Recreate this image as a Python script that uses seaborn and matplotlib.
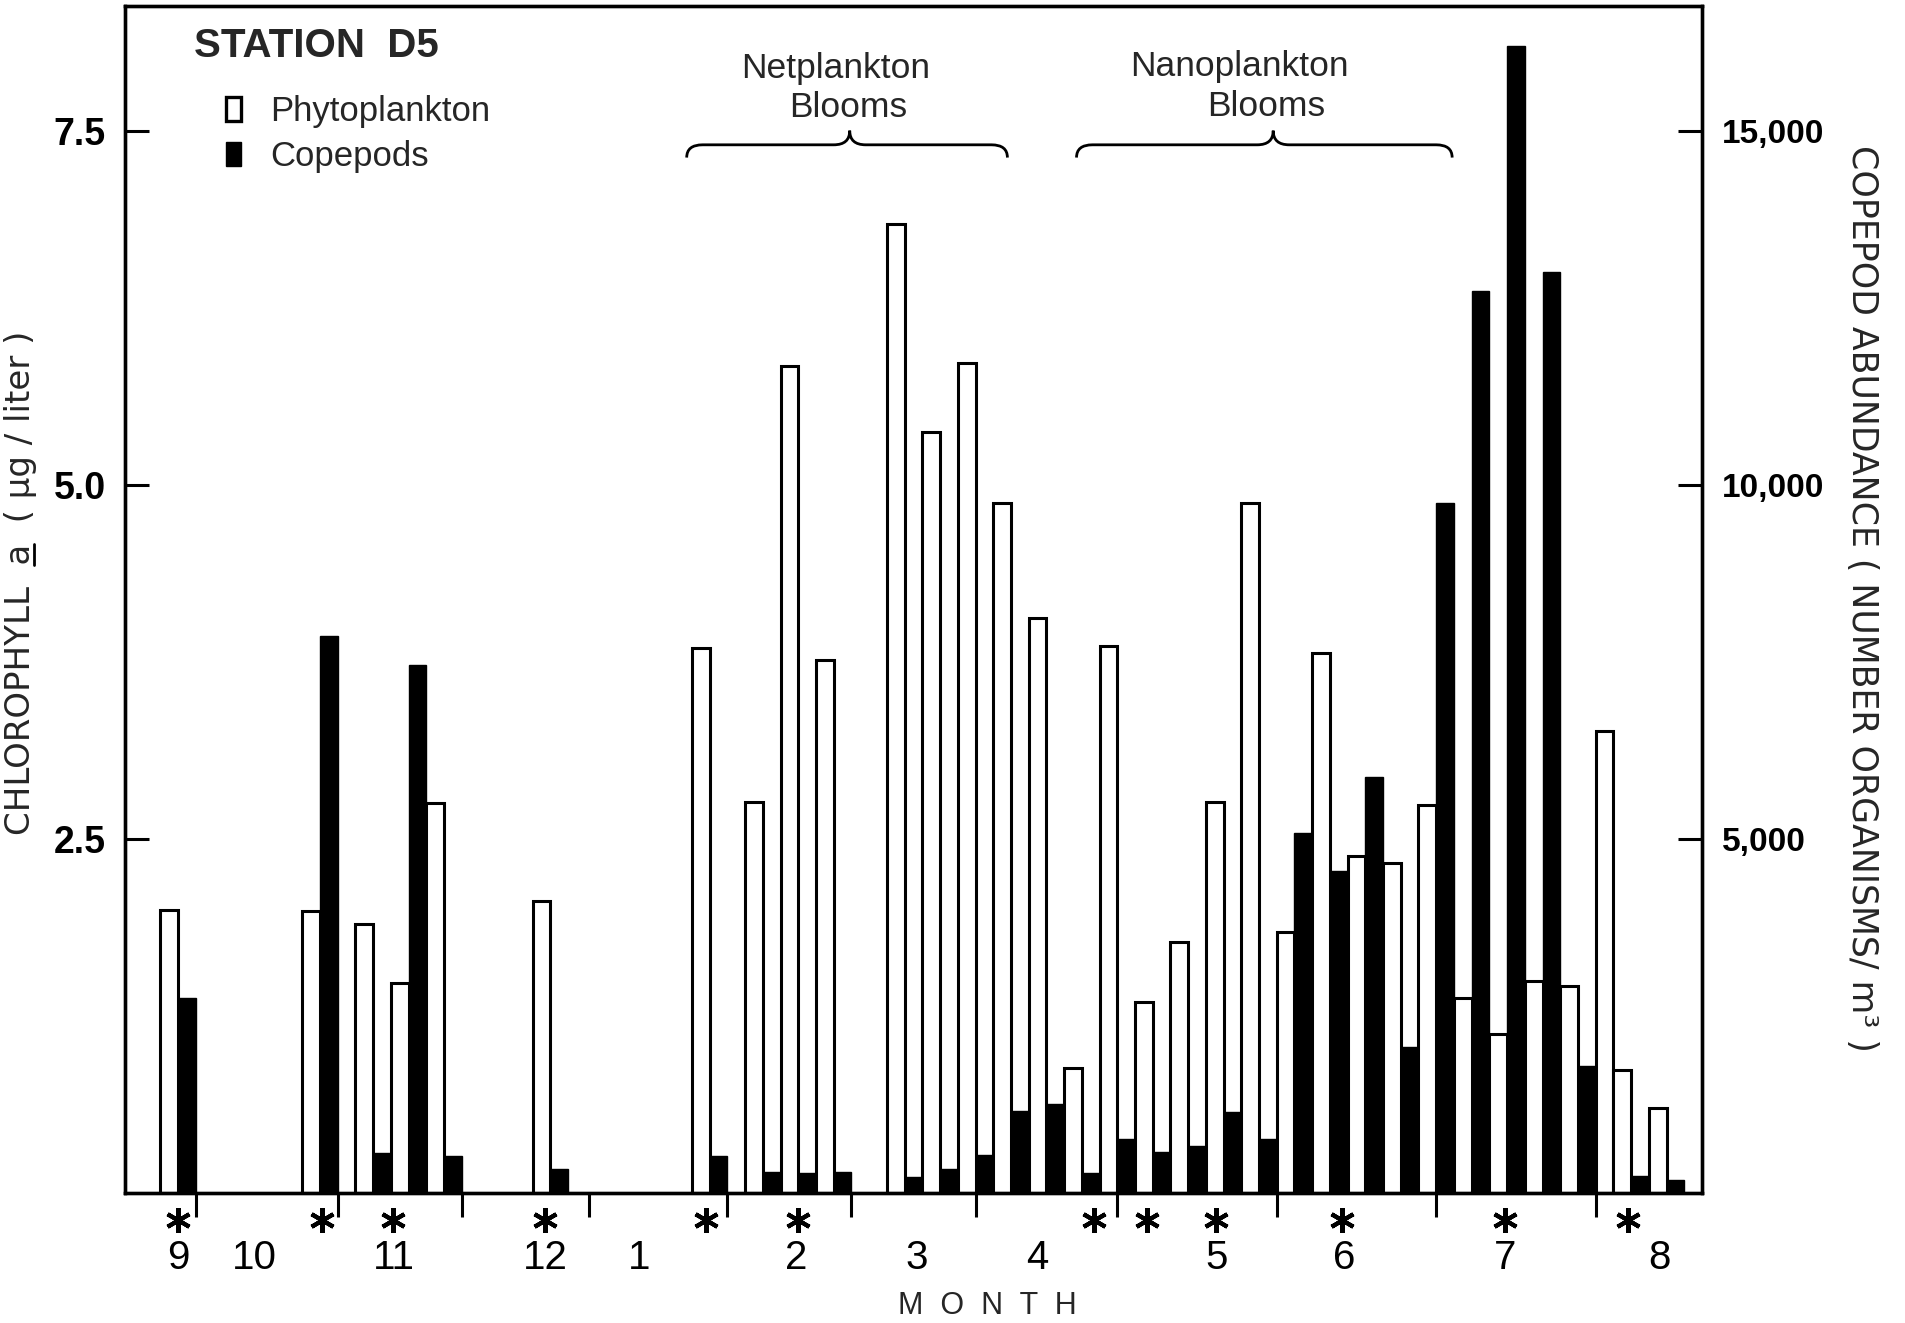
import numpy as np
import pandas as pd
import matplotlib
matplotlib.use("Agg")
import matplotlib.pyplot as plt
import seaborn as sns
from matplotlib.patches import Patch, PathPatch
from matplotlib.path import Path
from matplotlib.lines import Line2D
from matplotlib import transforms

# Sampling dates: left edge of each phytoplankton/copepod bar pair (in bar widths)
sample_pos = [2, 10, 13, 15, 17, 23, 32, 35, 37, 39, 43, 45, 47, 49, 51, 53,
              55, 57, 59, 61, 63, 65, 67, 69, 71, 73, 75, 77, 79, 81, 83, 84, 86]

# Chlorophyll a (ug / liter)
chlorophyll = [2.00, 1.99, 1.90, 1.48, 2.75, 2.06, 3.85, 2.76, 5.84, 3.76,
               6.84, 5.37, 5.86, 4.87, 4.06, 0.88, 3.86, 1.35, 1.77, 2.76,
               4.87, 1.84, 3.81, 2.38, 2.33, 2.74, 1.38, 1.12, 1.50, 1.46,
               3.26, 0.87, 0.60]

# Copepod abundance (organisms / m^3); NaN = no copepod sample
copepods = [2750, 7860, 560, 7460, 520, 340, 520, 300, 280, 300,
            220, 340, 540, 1160, 1260, 280, 760, 580, 660, 1140,
            760, 5080, 4540, 5880, 2060, 9740, 12740, 16200, 13000, 1800,
            np.nan, 240, 180]

month_labels = ["9", "10", "11", "12", "1", "2", "3", "4", "5", "6", "7", "8"]
month_pos = [3.0, 7.3, 15.2, 23.7, 29.0, 37.9, 44.7, 51.5, 61.6, 68.8, 77.9, 86.6]
month_bounds = [4, 12, 19, 26.2, 34, 41, 48, 56, 65, 74, 83]
asterisk_pos = [3.0, 11.1, 15.1, 23.7, 32.8, 38.0, 54.7, 57.7, 61.6, 68.7, 77.9, 84.8]

sns.set_theme(style="ticks")
plt.rcParams["font.family"] = ["Liberation Sans", "DejaVu Sans"]
narrow = ["Liberation Sans Narrow", "Liberation Sans", "DejaVu Sans"]
wide = ["DejaVu Sans"]

fig = plt.figure(figsize=(19.06, 13.23), dpi=100)
ax = fig.add_axes([125 / 1906, 130 / 1323, 1577 / 1906, 1187 / 1323])
ax2 = ax.twinx()

phyto_df = pd.DataFrame({"x": np.array(sample_pos) + 0.5, "chl": chlorophyll})
cope_df = pd.DataFrame({"x": np.array(sample_pos) + 1.5, "n": copepods}).dropna()

sns.barplot(data=phyto_df, x="x", y="chl", native_scale=True, width=1.0,
            color="white", edgecolor="black", linewidth=2.2, saturation=1,
            errorbar=None, ax=ax)
sns.barplot(data=cope_df, x="x", y="n", native_scale=True, width=0.5,
            color="black", edgecolor="black", linewidth=1.0, saturation=1,
            errorbar=None, ax=ax2)

ax.set_xlim(0, 89)
ax.set_ylim(0, 8.38)
ax2.set_ylim(0, 8.38 * 2000)

for a in (ax, ax2):
    for sp in a.spines.values():
        sp.set_visible(True)
        sp.set_color("black")
        sp.set_linewidth(2.4)

# Left axis: chlorophyll
ax.set_yticks([2.5, 5.0, 7.5], labels=["2.5", "5.0", "7.5"],
              fontsize=27, fontweight="bold", family=narrow)
ax.tick_params(axis="y", which="major", direction="in", length=17, width=2.2,
               pad=14, left=True, right=False, colors="black")
ax.set_ylabel("CHLOROPHYLL  a  ( µg / liter )", fontsize=24.5, family=wide,
              ha="center", va="center")
ax.yaxis.set_label_coords(-0.066, 0.514)

# Right axis: copepods
ax2.set_yticks([5000, 10000, 15000],
               labels=[f"{v:,}" for v in (5000, 10000, 15000)],
               fontsize=24, fontweight="bold")
ax2.tick_params(axis="y", which="major", direction="in", length=17, width=2.2,
                pad=14, right=True, left=False, colors="black")
ax2.set_ylabel("COPEPOD ABUNDANCE ( NUMBER ORGANISMS/ m\u00b3 )", fontsize=25,
               family=wide, rotation=-90, ha="center", va="center")
ax2.yaxis.set_label_coords(1.1015, 0.501)

# Month axis
ax.set_xticks(month_pos, labels=month_labels, fontsize=29, family=narrow)
ax.set_xticks(month_bounds, minor=True)
ax.tick_params(axis="x", which="major", length=0, pad=33, colors="black")
ax.tick_params(axis="x", which="minor", direction="out", length=17, width=2.2,
               bottom=True, colors="black")
ax.set_xlabel("M  O  N  T  H", fontsize=22, va="center")
ax.xaxis.set_label_coords(0.547, -0.095)
ax2.tick_params(axis="x", which="both", length=0)

# Asterisks under selected sampling dates
trans = transforms.blended_transform_factory(ax.transData, ax.transAxes)
ax.plot(asterisk_pos, [-0.0227] * len(asterisk_pos), transform=trans,
        linestyle="none", marker=(6, 2, 0), markersize=18,
        markeredgewidth=3.0, color="black", clip_on=False)


def brace(axis, x0, x1, xc, y, y_end, y_tip, dx=0.9):
    verts = [(x0, y_end), (x0, y), (x0 + dx, y),
             (xc - dx, y), (xc, y), (xc, y_tip),
             (xc, y), (xc + dx, y),
             (x1 - dx, y), (x1, y), (x1, y_end)]
    codes = [Path.MOVETO, Path.CURVE3, Path.CURVE3, Path.LINETO,
             Path.CURVE3, Path.CURVE3, Path.CURVE3, Path.CURVE3,
             Path.LINETO, Path.CURVE3, Path.CURVE3]
    axis.add_patch(PathPatch(Path(verts, codes), facecolor="none",
                             edgecolor="black", linewidth=2.0))


brace(ax, 31.7, 49.8, 40.9, 7.40, 7.31, 7.50)
brace(ax, 53.7, 74.9, 64.8, 7.40, 7.31, 7.50)
ax.text(40.1, 7.94, "Netplankton", ha="center", va="center", fontsize=25.5)
ax.text(40.8, 7.66, "Blooms", ha="center", va="center", fontsize=25.5)
ax.text(62.9, 7.95, "Nanoplankton", ha="center", va="center", fontsize=25.5)
ax.text(64.4, 7.67, "Blooms", ha="center", va="center", fontsize=25.5)

# Station title and legend
ax.text(0.044, 0.966, "STATION  D5", transform=ax.transAxes, ha="left",
        va="center", fontsize=29, fontweight="bold")
handles = [Patch(facecolor="white", edgecolor="black", linewidth=2.4),
           Patch(facecolor="black", edgecolor="black")]
ax.legend(handles, ["Phytoplankton", "Copepods"], loc="upper left",
          bbox_to_anchor=(0.064, 0.925), frameon=False, fontsize=25,
          handlelength=0.42, handleheight=0.68, handletextpad=0.85,
          labelspacing=0.34, borderpad=0, borderaxespad=0)

# Underline the "a" of the chlorophyll label
fig.canvas.draw()
renderer = fig.canvas.get_renderer()
ylab = ax.yaxis.label
fp = ylab.get_fontproperties()
bb = ylab.get_window_extent(renderer)
w_upto, _, _ = renderer.get_text_width_height_descent("CHLOROPHYLL  a", fp, ismath=False)
w_a, _, _ = renderer.get_text_width_height_descent("a", fp, ismath=False)
_, _, d_lp = renderer.get_text_width_height_descent("lp", fp, ismath=False)
em = fp.get_size_in_points() * fig.dpi / 72
x_line = bb.x1 - d_lp + 0.10 * em
y_start = bb.y0 + w_upto - w_a
y_end = bb.y0 + w_upto
inv = fig.transFigure.inverted()
(fx, fy0), (_, fy1) = inv.transform([(x_line, y_start), (x_line, y_end)])
fig.add_artist(Line2D([fx, fx], [fy0, fy1], transform=fig.transFigure,
                      color="black", linewidth=2.0))

fig.savefig("out.png", dpi=100)
